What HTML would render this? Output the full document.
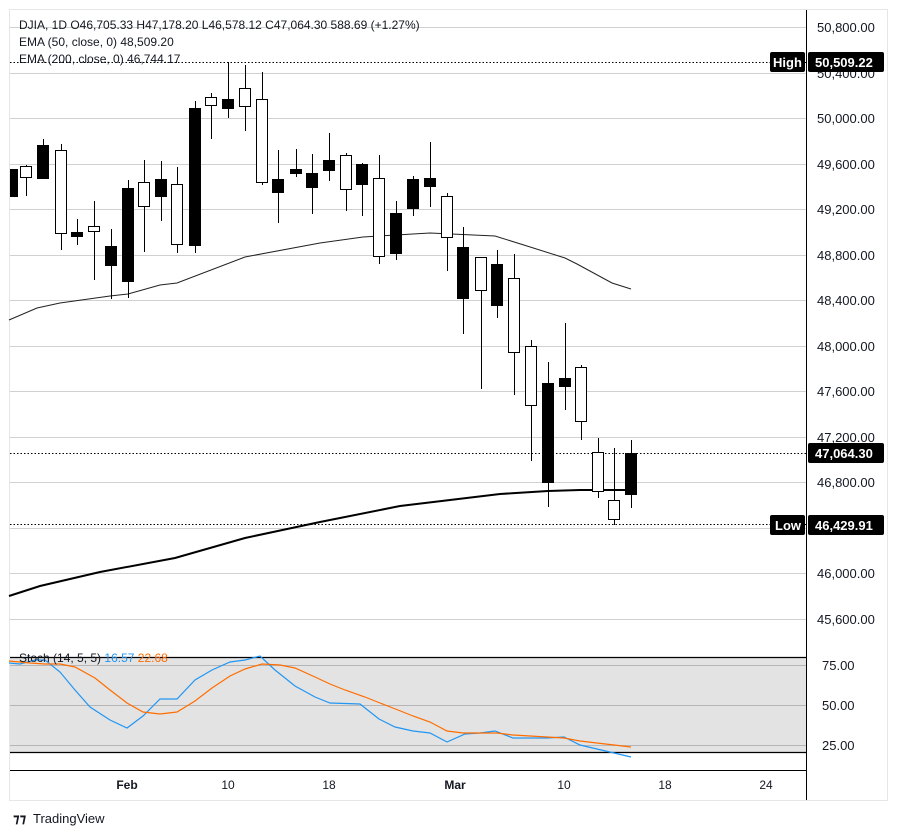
<!DOCTYPE html>
<html><head><meta charset="utf-8"><style>
html,body{margin:0;padding:0;background:#fff;width:899px;height:836px;overflow:hidden}
svg{display:block;font-family:"Liberation Sans","DejaVu Sans",sans-serif}
</style></head><body>
<svg width="899" height="836" viewBox="0 0 899 836">
<rect x="9.5" y="9.5" width="878" height="791" fill="#fff" stroke="#e6e6e6"/>
<g stroke="#d0d0d0" stroke-width="1">
<line x1="10" x2="806" y1="27.5" y2="27.5"/><line x1="10" x2="806" y1="73.5" y2="73.5"/>
<line x1="10" x2="806" y1="118.5" y2="118.5"/><line x1="10" x2="806" y1="164.5" y2="164.5"/>
<line x1="10" x2="806" y1="209.5" y2="209.5"/><line x1="10" x2="806" y1="255.5" y2="255.5"/>
<line x1="10" x2="806" y1="300.5" y2="300.5"/><line x1="10" x2="806" y1="346.5" y2="346.5"/>
<line x1="10" x2="806" y1="391.5" y2="391.5"/><line x1="10" x2="806" y1="437.5" y2="437.5"/>
<line x1="10" x2="806" y1="482.5" y2="482.5"/><line x1="10" x2="806" y1="528.5" y2="528.5"/>
<line x1="10" x2="806" y1="573.5" y2="573.5"/><line x1="10" x2="806" y1="619.5" y2="619.5"/>
</g>
<g stroke="#000" stroke-dasharray="1.5,2" stroke-width="1">
<line x1="10" x2="806" y1="62.5" y2="62.5"/><line x1="10" x2="806" y1="453.5" y2="453.5"/><line x1="10" x2="806" y1="524.5" y2="524.5"/>
</g>
<rect x="10" y="657" width="796" height="96" fill="#e3e3e3"/>
<g stroke="#b5b5b5"><line x1="10" x2="806" y1="665.5" y2="665.5"/><line x1="10" x2="806" y1="705.5" y2="705.5"/><line x1="10" x2="806" y1="745.5" y2="745.5"/></g>
<g stroke="#000" stroke-width="1.2"><line x1="10" x2="806" y1="657.5" y2="657.5"/><line x1="10" x2="806" y1="752.5" y2="752.5"/></g>
<line x1="10" x2="806" y1="770.5" y2="770.5" stroke="#000"/>
<line x1="806.5" x2="806.5" y1="10" y2="800" stroke="#000"/>
<polyline fill="none" stroke="#2196f3" stroke-width="1.2" points="9,663 20,664 35,660 45,660 60,672 75,690 90,707 110,720 127,728 143,716 160,699 177,699 195,680 212,670 230,662 245,660 260,656 275,670 295,686 315,697 330,703 360,704 379,719 395,727 413,731 430,733 447,742 465,734 480,733 495,731 513,738 530,738 547,738 564,737 580,745 597,749 614,753 631,757"/>
<polyline fill="none" stroke="#ff6d00" stroke-width="1.2" points="9,661 30,663 45,664 60,664 75,667 95,678 110,690 127,703 143,712 160,714 177,712 195,701 212,688 230,676 245,669 262,664 280,665 295,668 315,677 330,684 345,690 365,697 380,703 398,710 413,716 430,722 447,731 463,733 480,733 497,733 513,735 530,736 547,737 564,738 580,741 597,743 614,745 631,747"/>
<polyline fill="none" stroke="#222" stroke-width="1" points="9,320 37,308 60,303 110,296 128,294 160,285 177,283 245,257 320,243 363,237 430,233 495,236 527,246 565,258 577,264 612,283 631,289"/>
<polyline fill="none" stroke="#000" stroke-width="2" points="9,596 40,586 100,572 175,558 245,538 320,522 400,506 500,494 548,491 580,490 631,490"/>
<g stroke="#000" stroke-width="1">
<line x1="12.5" x2="12.5" y1="169" y2="197"/><rect x="10.5" y="169.5" width="7" height="27" fill="#000"/>
<line x1="26.5" x2="26.5" y1="165" y2="196"/><rect x="20.5" y="166.5" width="11" height="11" fill="#fff"/>
<line x1="43.5" x2="43.5" y1="139" y2="179"/><rect x="37.5" y="145.5" width="11" height="33" fill="#000"/>
<line x1="61.5" x2="61.5" y1="144" y2="250"/><rect x="55.5" y="150.5" width="11" height="83" fill="#fff"/>
<line x1="77.5" x2="77.5" y1="219" y2="245"/><rect x="71.5" y="232.5" width="11" height="4" fill="#000"/>
<line x1="94.5" x2="94.5" y1="201" y2="280"/><rect x="88.5" y="226.5" width="11" height="5" fill="#fff"/>
<line x1="111.5" x2="111.5" y1="229" y2="299"/><rect x="105.5" y="246.5" width="11" height="19" fill="#000"/>
<line x1="128.5" x2="128.5" y1="180" y2="298"/><rect x="122.5" y="188.5" width="11" height="93" fill="#000"/>
<line x1="144.5" x2="144.5" y1="160" y2="252"/><rect x="138.5" y="182.5" width="11" height="24" fill="#fff"/>
<line x1="161.5" x2="161.5" y1="161" y2="221"/><rect x="155.5" y="179.5" width="11" height="17" fill="#000"/>
<line x1="177.5" x2="177.5" y1="167" y2="253"/><rect x="171.5" y="184.5" width="11" height="60" fill="#fff"/>
<line x1="195.5" x2="195.5" y1="101" y2="253"/><rect x="189.5" y="108.5" width="11" height="137" fill="#000"/>
<line x1="211.5" x2="211.5" y1="93" y2="139"/><rect x="205.5" y="97.5" width="11" height="8" fill="#fff"/>
<line x1="228.5" x2="228.5" y1="62" y2="118"/><rect x="222.5" y="99.5" width="11" height="9" fill="#000"/>
<line x1="245.5" x2="245.5" y1="65" y2="131"/><rect x="239.5" y="88.5" width="11" height="18" fill="#fff"/>
<line x1="262.5" x2="262.5" y1="72" y2="185"/><rect x="256.5" y="99.5" width="11" height="83" fill="#fff"/>
<line x1="278.5" x2="278.5" y1="150" y2="223"/><rect x="272.5" y="179.5" width="11" height="13" fill="#000"/>
<line x1="296.5" x2="296.5" y1="149" y2="177"/><rect x="290.5" y="169.5" width="11" height="4" fill="#000"/>
<line x1="312.5" x2="312.5" y1="154" y2="214"/><rect x="306.5" y="173.5" width="11" height="14" fill="#000"/>
<line x1="329.5" x2="329.5" y1="133" y2="181"/><rect x="323.5" y="160.5" width="11" height="10" fill="#000"/>
<line x1="346.5" x2="346.5" y1="153" y2="211"/><rect x="340.5" y="155.5" width="11" height="34" fill="#fff"/>
<line x1="362.5" x2="362.5" y1="163" y2="216"/><rect x="356.5" y="164.5" width="11" height="20" fill="#000"/>
<line x1="379.5" x2="379.5" y1="155" y2="264"/><rect x="373.5" y="178.5" width="11" height="78" fill="#fff"/>
<line x1="396.5" x2="396.5" y1="201" y2="260"/><rect x="390.5" y="213.5" width="11" height="40" fill="#000"/>
<line x1="413.5" x2="413.5" y1="176" y2="216"/><rect x="407.5" y="179.5" width="11" height="29" fill="#000"/>
<line x1="430.5" x2="430.5" y1="142" y2="207"/><rect x="424.5" y="178.5" width="11" height="8" fill="#000"/>
<line x1="447.5" x2="447.5" y1="193" y2="271"/><rect x="441.5" y="196.5" width="11" height="41" fill="#fff"/>
<line x1="463.5" x2="463.5" y1="227" y2="334"/><rect x="457.5" y="247.5" width="11" height="51" fill="#000"/>
<line x1="481.5" x2="481.5" y1="257" y2="389"/><rect x="475.5" y="257.5" width="11" height="33" fill="#fff"/>
<line x1="497.5" x2="497.5" y1="250" y2="318"/><rect x="491.5" y="264.5" width="11" height="41" fill="#000"/>
<line x1="514.5" x2="514.5" y1="254" y2="395"/><rect x="508.5" y="278.5" width="11" height="74" fill="#fff"/>
<line x1="531.5" x2="531.5" y1="340" y2="461"/><rect x="525.5" y="346.5" width="11" height="59" fill="#fff"/>
<line x1="548.5" x2="548.5" y1="362" y2="507"/><rect x="542.5" y="383.5" width="11" height="99" fill="#000"/>
<line x1="565.5" x2="565.5" y1="323" y2="410"/><rect x="559.5" y="378.5" width="11" height="8" fill="#000"/>
<line x1="581.5" x2="581.5" y1="365" y2="440"/><rect x="575.5" y="367.5" width="11" height="54" fill="#fff"/>
<line x1="598.5" x2="598.5" y1="438" y2="498"/><rect x="592.5" y="452.5" width="11" height="39" fill="#fff"/>
<line x1="614.5" x2="614.5" y1="448" y2="525"/><rect x="608.5" y="500.5" width="11" height="19" fill="#fff"/>
<line x1="631.5" x2="631.5" y1="440" y2="508"/><rect x="625.5" y="453.5" width="11" height="41" fill="#000"/>
</g>
<g font-size="12" fill="#131722">
<text x="19" y="29">DJIA, 1D  O46,705.33  H47,178.20  L46,578.12  C47,064.30  588.69 (+1.27%)</text>
<text x="19" y="46">EMA (50, close, 0)  48,509.20</text>
<text x="19" y="63">EMA (200, close, 0)  46,744.17</text>
<text x="19" y="662">Stoch (14, 5, 5) <tspan fill="#2196f3">16.57</tspan> <tspan fill="#ff6d00">22.68</tspan></text>
</g>
<g font-size="13" fill="#131722">
<text x="817" y="32">50,800.00</text><text x="817" y="78">50,400.00</text><text x="817" y="123">50,000.00</text>
<text x="817" y="169">49,600.00</text><text x="817" y="214">49,200.00</text><text x="817" y="260">48,800.00</text>
<text x="817" y="305">48,400.00</text><text x="817" y="351">48,000.00</text><text x="817" y="396">47,600.00</text>
<text x="817" y="442">47,200.00</text><text x="817" y="487">46,800.00</text>
<text x="817" y="578">46,000.00</text><text x="817" y="624">45,600.00</text>
<text x="822" y="670">75.00</text><text x="822" y="710">50.00</text><text x="822" y="750">25.00</text>
</g>
<rect x="770" y="52" width="35" height="20" rx="2" fill="#000"/><text x="773" y="67" font-size="13" font-weight="bold" fill="#fff">High</text>
<rect x="808" y="52" width="76" height="20" rx="2" fill="#000"/><text x="815" y="67" font-size="13" font-weight="bold" fill="#fff">50,509.22</text>
<rect x="808" y="443" width="76" height="20" rx="2" fill="#000"/><text x="815" y="458" font-size="13" font-weight="bold" fill="#fff">47,064.30</text>
<rect x="770" y="515" width="35" height="20" rx="2" fill="#000"/><text x="775" y="530" font-size="13" font-weight="bold" fill="#fff">Low</text>
<rect x="808" y="515" width="76" height="20" rx="2" fill="#000"/><text x="815" y="530" font-size="13" font-weight="bold" fill="#fff">46,429.91</text>
<g font-size="12" fill="#131722" text-anchor="middle">
<text x="127" y="789" font-weight="bold">Feb</text><text x="228" y="789">10</text><text x="329" y="789">18</text>
<text x="455" y="789" font-weight="bold">Mar</text><text x="564" y="789">10</text><text x="665" y="789">18</text><text x="766" y="789">24</text>
</g>
<text x="13" y="823" font-size="13" font-weight="bold" fill="#131722">⁊⁊</text>
<text x="33" y="823" font-size="13" fill="#131722">TradingView</text>
</svg>
</body></html>
